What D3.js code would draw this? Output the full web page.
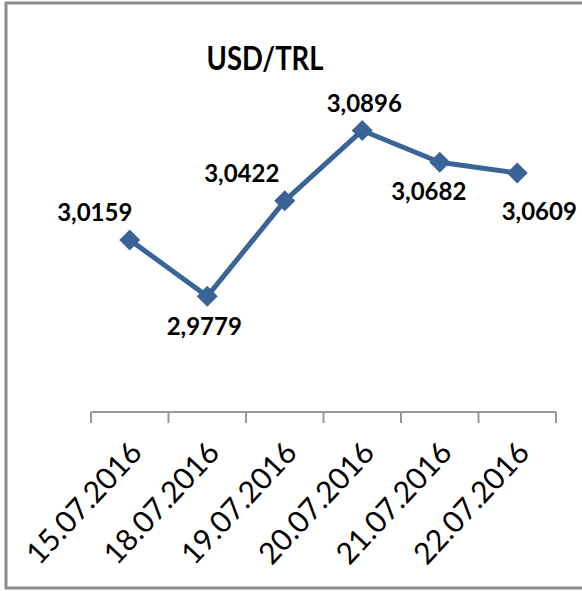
<!DOCTYPE html>
<html>
<head>
<meta charset="utf-8">
<script src="https://cdn.jsdelivr.net/npm/d3@7"></script>
<style>
  body { margin: 0; background: #fff; }
  text { font-family: Lato, "Open Sans", sans-serif; fill: #000; }
</style>
</head>
<body>
<svg id="chart" width="582" height="591"></svg>
<script>
// data
var dates = ["15.07.2016", "18.07.2016", "19.07.2016", "20.07.2016", "21.07.2016", "22.07.2016"];
var rates = [3.0159, 2.9779, 3.0422, 3.0896, 3.0682, 3.0609];
var labels = ["3,0159", "2,9779", "3,0422", "3,0896", "3,0682", "3,0609"];
// where each data label sits relative to its marker
var labelDx = [-35, -3, -43, 2, -11, 22];
var labelDy = [-27, 30, -27, -27, 29, 39];

var svg = d3.select("#chart");

// outer frame (right edge is cut off in the original)
svg.append("rect")
    .attr("x", 6).attr("y", 3)
    .attr("width", 600).attr("height", 585)
    .attr("fill", "none")
    .attr("stroke", "#8c8c8c")
    .attr("stroke-width", 3);

var x = d3.scaleBand().domain(dates).range([91, 556]);
var y = d3.scaleLinear().domain([2.9, 3.1]).range([412, 115]);

// title
svg.append("text")
    .attr("x", 265).attr("y", 70)
    .attr("text-anchor", "middle")
    .attr("textLength", 117)
    .attr("lengthAdjust", "spacingAndGlyphs")
    .style("font-size", "32px")
    .style("font-weight", "bold")
    .text("USD/TRL");

// category axis, ticks on band edges
var axisG = svg.append("g").attr("transform", "translate(0,412)");
axisG.append("line")
    .attr("x1", 91).attr("x2", 556)
    .attr("stroke", "#999").attr("stroke-width", 2);
var edges = dates.map(function(d) { return x(d); }).concat([x.range()[1]]);
axisG.selectAll(".tick")
    .data(edges)
    .enter().append("line")
    .attr("x1", function(d) { return d; })
    .attr("x2", function(d) { return d; })
    .attr("y1", 0).attr("y2", 11)
    .attr("stroke", "#999").attr("stroke-width", 2);

axisG.selectAll(".lbl")
    .data(dates)
    .enter().append("text")
    .attr("transform", function(d) {
        return "translate(" + (x(d) + x.bandwidth() / 2 + 14) + ",42) rotate(-47)";
    })
    .attr("text-anchor", "end")
    .style("font-size", "30px")
    .text(function(d) { return d; });

// the line
var cx = function(d, i) { return x(dates[i]) + x.bandwidth() / 2; };
var line = d3.line()
    .x(function(d, i) { return cx(d, i); })
    .y(function(d) { return y(d); });

svg.append("path")
    .datum(rates)
    .attr("d", line)
    .attr("fill", "none")
    .attr("stroke", "#3a6497")
    .attr("stroke-width", 5)
    .attr("stroke-linejoin", "round");

svg.selectAll(".marker")
    .data(rates)
    .enter().append("path")
    .attr("d", d3.symbol().type(d3.symbolSquare).size(220))
    .attr("transform", function(d, i) {
        return "translate(" + cx(d, i) + "," + y(d) + ") rotate(45)";
    })
    .attr("fill", "#3a6497");

svg.selectAll(".dlabel")
    .data(rates)
    .enter().append("text")
    .attr("x", function(d, i) { return cx(d, i) + labelDx[i]; })
    .attr("y", function(d, i) { return y(d) + labelDy[i]; })
    .attr("dy", "0.35em")
    .attr("text-anchor", "middle")
    .style("font-size", "24px")
    .style("font-weight", "bold")
    .text(function(d, i) { return labels[i]; });
</script>
</body>
</html>
